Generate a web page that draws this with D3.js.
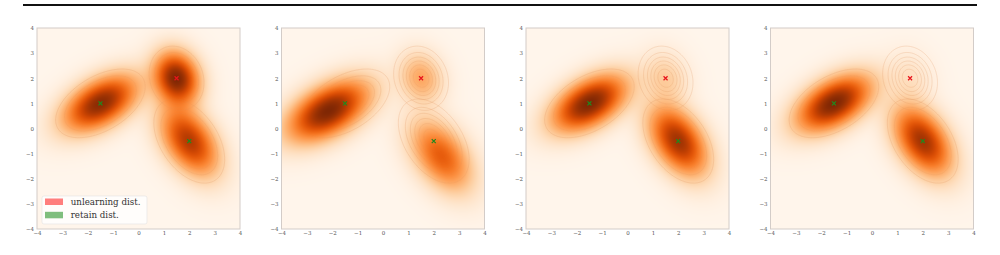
<!DOCTYPE html>
<html>
<head>
<meta charset="utf-8">
<script src="https://cdn.jsdelivr.net/npm/d3@7"></script>
<style>
body { margin: 0; background: #fff; }
svg { display: block; }
</style>
</head>
<body>
<svg id="fig" width="1000" height="255"></svg>
<script>
// ---- data ----
var xTicks = [-4, -3, -2, -1, 0, 1, 2, 3, 4];
var yTicks = [-4, -3, -2, -1, 0, 1, 2, 3, 4];

// marker positions (unlearning / retain component centres)
var unlearnPoints = [[1.5, 2]];
var retainPoints = [[-1.5, 1], [2, -0.5]];

// original components (these give the thin contour rings in every panel)
var origMeans = [[-1.5, 1], [1.5, 2], [2, -0.5]];
var origCovs = [
    [[0.80, 0.30], [0.30, 0.48]],
    [[0.30, -0.05], [-0.05, 0.42]],
    [[0.50, -0.26], [-0.26, 0.72]]
];

// density shown as colour in each of the four panels
var panelMeans = [
    [[-1.5, 1], [1.5, 2], [2, -0.5]],
    [[-2.15, 0.7], [1.5, 2], [2.3, -1.1]],
    [[-1.5, 1], [1.5, 2], [2, -0.5]],
    [[-1.5, 1], [1.5, 2], [2, -0.5]]
];
var panelCovs = [
    origCovs,
    [[[0.95, 0.36], [0.36, 0.55]], [[0.28, -0.04], [-0.04, 0.40]], [[0.55, -0.28], [-0.28, 0.75]]],
    origCovs,
    origCovs
];
var panelWeights = [
    [0.40, 0.27, 0.33],
    [0.60, 0.085, 0.315],
    [0.515, 0.045, 0.44],
    [0.53, 0.022, 0.448]
];

var legendLabels = ['unlearning dist.', 'retain dist.'];
var legendColors = ['rgba(255,0,0,0.5)', 'rgba(0,128,0,0.5)'];

// ---- layout ----
var svg = d3.select('#fig');
var plotW = 203, plotH = 201, plotTop = 28;
var firstLeft = 37, step = 244.5;
var nGrid = 200;

function gauss(x, y, m, c)
{
    var det = c[0][0] * c[1][1] - c[0][1] * c[1][0];
    var dx = x - m[0], dy = y - m[1];
    var q = (dx * dx * c[1][1] - 2 * dx * dy * c[0][1] + dy * dy * c[0][0]) / det;
    return Math.exp(-0.5 * q) / (2 * Math.PI * Math.sqrt(det));
}

function mixture(x, y, means, covs, weights)
{
    var s = 0;
    for (var k = 0; k < means.length; k++)
        s += weights[k] * gauss(x, y, means[k], covs[k]);
    return s;
}

// top rule of the page
svg.append('line')
    .attr('x1', 23).attr('x2', 977)
    .attr('y1', 5).attr('y2', 5)
    .attr('stroke', '#111').attr('stroke-width', 1.8);

var defs = svg.append('defs');

panelMeans.forEach(function(means, p) {
    var left = firstLeft + p * step;
    var x = d3.scaleLinear().domain([-4, 4]).range([0, plotW]);
    var y = d3.scaleLinear().domain([-4, 4]).range([plotH, 0]);

    var g = svg.append('g').attr('transform', 'translate(' + left + ',' + plotTop + ')');

    // heat map, one pixel per cell; a second canvas makes the mask that
    // hides the contour rings where the colour is dark
    var canvas = document.createElement('canvas');
    canvas.width = plotW; canvas.height = plotH;
    var mcanvas = document.createElement('canvas');
    mcanvas.width = plotW; mcanvas.height = plotH;
    var ctx = canvas.getContext('2d');
    var mctx = mcanvas.getContext('2d');
    var img = ctx.createImageData(plotW, plotH);
    var mimg = mctx.createImageData(plotW, plotH);
    var vals = new Float64Array(plotW * plotH);
    var vmax = 0;
    for (var j = 0; j < plotH; j++) {
        for (var i = 0; i < plotW; i++) {
            var v = mixture(x.invert(i + 0.5), y.invert(j + 0.5), means, panelCovs[p], panelWeights[p]);
            vals[j * plotW + i] = v;
            if (v > vmax) vmax = v;
        }
    }
    var norm = d3.scalePow().exponent(0.7).domain([0, vmax]).range([0, 1]);
    var fade = d3.scaleLinear().domain([0.25, 0.7]).range([255, 0]).clamp(true);
    for (var k = 0; k < vals.length; k++) {
        var t = norm(vals[k]);
        var c = d3.rgb(d3.interpolateOranges(t));
        img.data[4 * k] = c.r;
        img.data[4 * k + 1] = c.g;
        img.data[4 * k + 2] = c.b;
        img.data[4 * k + 3] = 255;
        var mv = fade(t);
        mimg.data[4 * k] = mv;
        mimg.data[4 * k + 1] = mv;
        mimg.data[4 * k + 2] = mv;
        mimg.data[4 * k + 3] = 255;
    }
    ctx.putImageData(img, 0, 0);
    mctx.putImageData(mimg, 0, 0);
    g.append('image')
        .attr('width', plotW).attr('height', plotH)
        .attr('preserveAspectRatio', 'none')
        .attr('href', canvas.toDataURL());

    defs.append('mask').attr('id', 'mask' + p)
        .attr('maskUnits', 'userSpaceOnUse')
        .attr('x', 0).attr('y', 0).attr('width', plotW).attr('height', plotH)
        .append('image')
        .attr('width', plotW).attr('height', plotH)
        .attr('preserveAspectRatio', 'none')
        .attr('href', mcanvas.toDataURL());

    // contour rings of the original components
    var gx = d3.scaleLinear().domain([-4, 4]).range([0, nGrid]);
    var gy = d3.scaleLinear().domain([4, -4]).range([0, nGrid]);
    var proj = d3.geoTransform({
        point: function(px, py) {
            this.stream.point(x(gx.invert(px)), y(gy.invert(py)));
        }
    });
    var path = d3.geoPath(proj);
    var cg = g.append('g').attr('mask', 'url(#mask' + p + ')');
    origMeans.forEach(function(m, ci) {
        var cov = origCovs[ci];
        var grid = new Float64Array(nGrid * nGrid);
        for (var j = 0; j < nGrid; j++)
            for (var i = 0; i < nGrid; i++)
                grid[j * nGrid + i] = gauss(gx.invert(i + 0.5), gy.invert(j + 0.5), m, cov);
        var peak = gauss(m[0], m[1], m, cov);
        var levels = d3.range(1, 7).map(function(t) { return peak * t / 7; });
        cg.selectAll(null)
            .data(d3.contours().size([nGrid, nGrid]).thresholds(levels)(grid))
            .enter().append('path')
            .attr('d', path)
            .attr('fill', 'none')
            .attr('stroke', '#e0925c')
            .attr('stroke-opacity', 0.38)
            .attr('stroke-width', 0.6);
    });

    // frame
    g.append('rect')
        .attr('width', plotW).attr('height', plotH)
        .attr('fill', 'none')
        .attr('stroke', '#d3ccc8').attr('stroke-width', 1);

    // markers
    function drawX(pts, col) {
        g.selectAll(null).data(pts).enter().append('path')
            .attr('transform', function(d) { return 'translate(' + x(d[0]) + ',' + y(d[1]) + ')'; })
            .attr('d', 'M-2,-2L2,2M-2,2L2,-2')
            .attr('stroke', col).attr('stroke-width', 1.2);
    }
    drawX(unlearnPoints, '#e8141c');
    drawX(retainPoints, '#1f8a1f');

    // axes
    var xa = g.append('g').attr('transform', 'translate(0,' + plotH + ')')
        .call(d3.axisBottom(x).tickValues(xTicks).tickSize(0).tickPadding(2));
    var ya = g.append('g')
        .call(d3.axisLeft(y).tickValues(yTicks).tickSize(0).tickPadding(3));
    [xa, ya].forEach(function(a) {
        a.select('.domain').remove();
        a.selectAll('text')
            .attr('font-family', 'DejaVu Serif')
            .attr('font-size', 5.5)
            .attr('fill', '#555');
    });

    // legend only in the first panel
    if (p === 0) {
        var lg = g.append('g').attr('transform', 'translate(5,168)');
        lg.append('rect')
            .attr('width', 105).attr('height', 28)
            .attr('rx', 2)
            .attr('fill', 'rgba(255,255,255,0.8)')
            .attr('stroke', '#e2e2e2').attr('stroke-width', 0.6);
        legendLabels.forEach(function(lab, i) {
            lg.append('rect')
                .attr('x', 3).attr('y', 2.5 + i * 13.3)
                .attr('width', 18).attr('height', 6.5)
                .attr('fill', legendColors[i]);
            lg.append('text')
                .attr('x', 28.7).attr('y', 6 + i * 13.3)
                .attr('dy', '0.35em')
                .attr('font-family', 'DejaVu Serif')
                .attr('font-size', 8.7)
                .attr('fill', '#333')
                .text(lab);
        });
    }
});
</script>
</body>
</html>
